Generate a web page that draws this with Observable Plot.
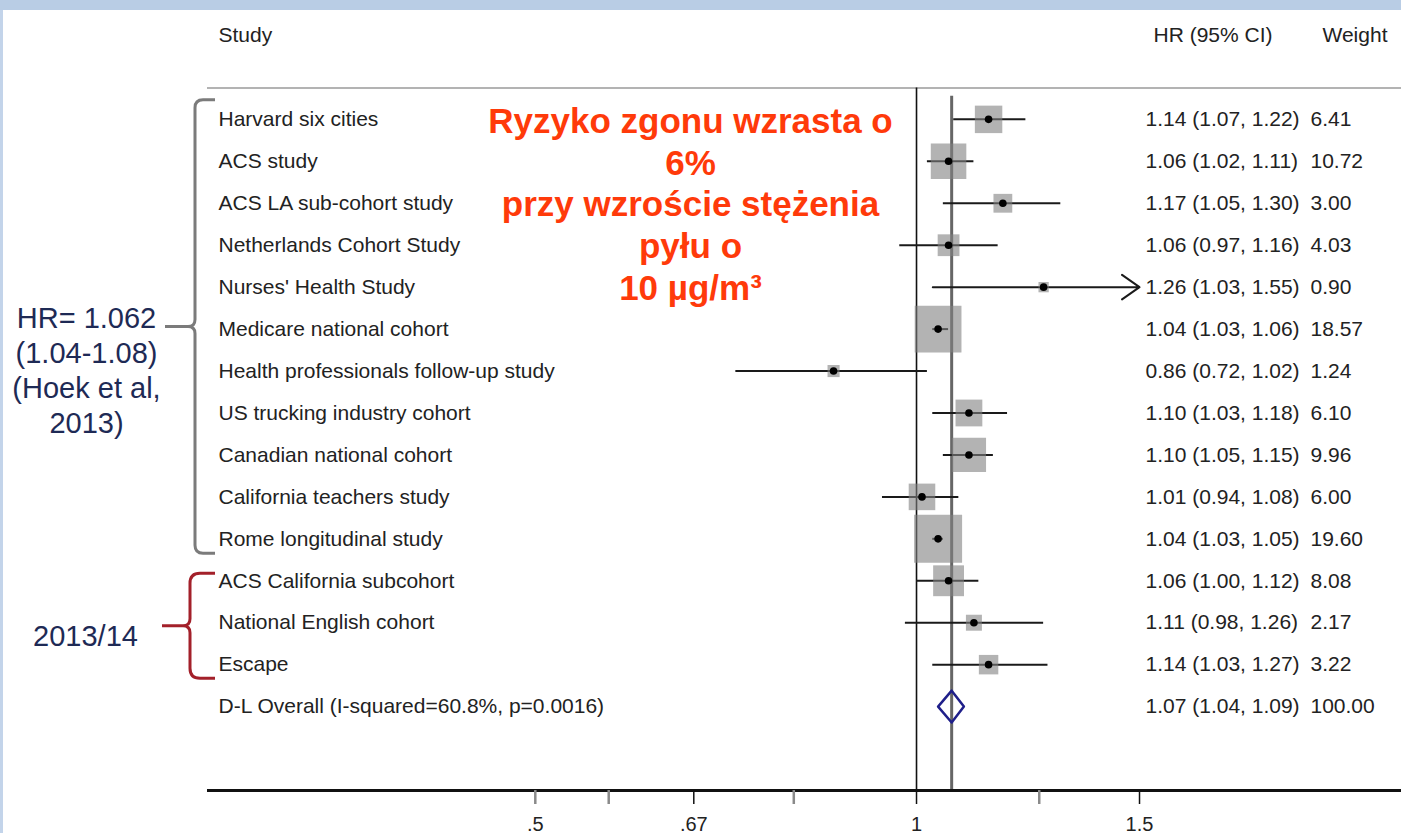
<!DOCTYPE html>
<html>
<head>
<meta charset="utf-8">
<script src="https://cdn.jsdelivr.net/npm/d3@7"></script>
<script src="https://cdn.jsdelivr.net/npm/@observablehq/plot@0.6"></script>
<style>
  html, body { margin: 0; padding: 0; width: 1401px; height: 833px; overflow: hidden;
    background: linear-gradient(#b9cde5 0 10px, transparent 10px),
                linear-gradient(90deg, #c3d4ea 0 3px, #ffffff 3px); }
  #chart svg { display: block; background: transparent; }
</style>
</head>
<body>
<div id="chart"></div>
<script>
// ---------- data ----------
const studies = [
  "Harvard six cities",
  "ACS study",
  "ACS LA sub-cohort study",
  "Netherlands Cohort Study",
  "Nurses' Health Study",
  "Medicare national cohort",
  "Health professionals follow-up study",
  "US trucking industry cohort",
  "Canadian national cohort",
  "California teachers study",
  "Rome longitudinal study",
  "ACS California subcohort",
  "National English cohort",
  "Escape"
];
const hr     = [1.14, 1.06, 1.17, 1.06, 1.26, 1.04, 0.86, 1.10, 1.10, 1.01, 1.04, 1.06, 1.11, 1.14];
const lo     = [1.07, 1.02, 1.05, 0.97, 1.03, 1.03, 0.72, 1.03, 1.05, 0.94, 1.03, 1.00, 0.98, 1.03];
const hi     = [1.22, 1.11, 1.30, 1.16, 1.55, 1.06, 1.02, 1.18, 1.15, 1.08, 1.05, 1.12, 1.26, 1.27];
const weight = [6.41, 10.72, 3.00, 4.03, 0.90, 18.57, 1.24, 6.10, 9.96, 6.00, 19.60, 8.08, 2.17, 3.22];

const overallLabel = "D-L Overall (I-squared=60.8%, p=0.0016)";
const overallHR = 1.066, overallLo = 1.04, overallHi = 1.09, overallWeight = 100.00;

const tickValues = [0.5, 0.5714, 0.667, 0.8, 1, 1.25, 1.5];
const tickLabels = [".5", "", ".67", "", "1", "", "1.5"];
const headers = ["Study", "HR (95% CI)", "Weight"];

const noteLines = ["Ryzyko zgonu wzrasta o", "6%", "przy wzroście stężenia", "pyłu o", "10 µg/m³"];
const hoekLines = ["HR= 1.062", "(1.04-1.08)", "(Hoek et al,", "2013)"];
const newLabel = "2013/14";
const groupRows = [[0, 10], [11, 13]];

// ---------- derived table ----------
const rows = studies.map((s, i) => ({study: s, hr: hr[i], lo: lo[i], hi: hi[i], w: weight[i], row: i}));
const overallRow = studies.length;
const allRows = [...rows, {study: overallLabel, hr: overallHR, lo: overallLo, hi: overallHi, w: overallWeight, row: overallRow}];
const xMaxLabel = d3.max(tickValues.filter((v, i) => tickLabels[i] !== ""));
const labelOf = new Map(tickValues.map((v, i) => [v, tickLabels[i]]));
const diamond = [
  {x: overallLo, y: overallRow}, {x: overallHR, y: overallRow - 0.38},
  {x: overallHi, y: overallRow}, {x: overallHR, y: overallRow + 0.38},
  {x: overallLo, y: overallRow}
];
const f2 = d3.format(".2f");

const FONT = "Liberation Sans, Arial, Helvetica, sans-serif";
const yDomain = [-2.834, 16];
const axisRow = 16, topLineRow = -0.75, headerRow = -2;
const TFS = 21;

// ---------- brackets (custom render using Plot's y scale) ----------
function brackets(index, scales, values, dims) {
  const yf = typeof scales.y === "function" ? scales.y
    : (v => (v - yDomain[0]) / (yDomain[1] - yDomain[0]) * (dims.height - dims.marginBottom));
  const ml = dims.marginLeft;
  const specs = [
    {g: groupRows[0], top: -19, bot: 15, xv: -12, xh: 8, xt: -42, r: 8, stroke: "#7b7b7b"},
    {g: groupRows[1], top: -7, bot: 14, xv: -17, xh: 8, xt: -45, r: 10, stroke: "#a3202a"}
  ];
  const g = d3.create("svg:g").attr("fill", "none").attr("stroke-width", 3).attr("stroke-linejoin", "round");
  for (const s of specs) {
    const y0 = yf(s.g[0]) + s.top, y1 = yf(s.g[1]) + s.bot, ym = (y0 + y1) / 2;
    const xv = ml + s.xv, xh = ml + s.xh, xt = ml + s.xt, r = s.r;
    const p = d3.path();
    p.moveTo(xh, y0); p.lineTo(xv + r, y0); p.quadraticCurveTo(xv, y0, xv, y0 + r);
    p.lineTo(xv, ym - 7); p.quadraticCurveTo(xv, ym, xv - 7, ym); p.lineTo(xt, ym);
    p.moveTo(xv - 7, ym); p.quadraticCurveTo(xv, ym, xv, ym + 7);
    p.lineTo(xv, y1 - r); p.quadraticCurveTo(xv, y1, xv + r, y1); p.lineTo(xh, y1);
    g.append("path").attr("d", p.toString()).attr("stroke", s.stroke);
  }
  return g.node();
}

const chart = Plot.plot({
  width: 1401,
  height: 833,
  marginLeft: 207,
  marginRight: 0,
  marginTop: 0,
  marginBottom: 43,
  style: {background: "transparent", fontFamily: FONT, overflow: "visible"},
  x: {type: "log", domain: [0.2755, 2.4153], label: null},
  y: {domain: yDomain, reverse: true, axis: null},
  r: {type: "sqrt", domain: [0, d3.max(weight)], range: [0, 27.1]},
  marks: [
    // header separator
    Plot.ruleY([topLineRow], {stroke: "#9a9a9a", strokeWidth: 1.5}),
    // null line and overall line
    Plot.ruleX([1], {y1: topLineRow, y2: axisRow, stroke: "#111", strokeWidth: 1.6}),
    Plot.ruleX([overallHR], {y1: -0.55, y2: axisRow, stroke: "#666", strokeWidth: 3}),
    // confidence intervals
    Plot.ruleY(rows.filter(d => d.hi <= xMaxLabel), {y: "row", x1: "lo", x2: "hi", stroke: "#1a1a1a", strokeWidth: 2}),
    Plot.arrow(rows.filter(d => d.hi > xMaxLabel), {
      x1: "lo", x2: d => Math.min(d.hi, xMaxLabel), y1: "row", y2: "row",
      stroke: "#1a1a1a", strokeWidth: 2, headLength: 16, headAngle: 70
    }),
    // weight boxes
    Plot.dot(rows, {x: "hr", y: "row", r: "w", symbol: "square", fill: "#808080", fillOpacity: 0.6}),
    // point estimates
    Plot.dot(rows, {x: "hr", y: "row", r: 3.8, fill: "#000"}),
    // overall diamond
    Plot.line(diamond, {x: "x", y: "y", stroke: "#1f1f8a", strokeWidth: 2.5}),
    // x axis
    Plot.ruleY([axisRow], {stroke: "#111", strokeWidth: 3}),
    Plot.axisX({ticks: tickValues.filter(v => [0.5, 0.5714, 0.8, 1.25].includes(v)), tickSize: 14, stroke: "#8a8a8a", strokeWidth: 2.5, tickFormat: () => "", label: null}),
    Plot.axisX({ticks: tickValues.filter(v => [0.667, 1, 1.5].includes(v)), tickSize: 14, stroke: "#111", strokeWidth: 1.5, tickFormat: () => "", label: null}),
    Plot.axisX({ticks: tickValues.filter(v => labelOf.get(v) !== ""), tickSize: 0, tickPadding: 26, tickFormat: d => labelOf.get(d), fontSize: 20, fontFamily: FONT, fill: "#222", label: null}),
    // headers
    Plot.text([headers[0]], {y: () => headerRow, text: d => d, frameAnchor: "left", dx: 11, textAnchor: "start", fontSize: TFS, fontFamily: FONT, fill: "#222"}),
    Plot.text([headers[1]], {y: () => headerRow, text: d => d, frameAnchor: "right", dx: -248, textAnchor: "start", fontSize: TFS, fontFamily: FONT, fill: "#222"}),
    Plot.text([headers[2]], {y: () => headerRow, text: d => d, frameAnchor: "right", dx: -79, textAnchor: "start", fontSize: TFS, fontFamily: FONT, fill: "#222"}),
    // study labels and stats columns
    Plot.text(allRows, {y: "row", text: "study", frameAnchor: "left", dx: 11, textAnchor: "start", fontSize: TFS, fontFamily: FONT, fill: "#222"}),
    Plot.text(allRows, {y: "row", text: d => `${f2(d.hr)} (${f2(d.lo)}, ${f2(d.hi)})`, frameAnchor: "right", dx: -256, textAnchor: "start", fontSize: TFS, fontFamily: FONT, fill: "#222"}),
    Plot.text(allRows, {y: "row", text: d => f2(d.w), frameAnchor: "right", dx: -91, textAnchor: "start", fontSize: TFS, fontFamily: FONT, fill: "#222"}),
    // red note
    Plot.text(noteLines, {y: (d, i) => i, dy: 2, text: d => d, frameAnchor: "left", dx: 483, textAnchor: "middle", fontSize: 35, fontWeight: "bold", fontFamily: FONT, fill: "#ff3a0a"}),
    // left annotations
    Plot.text([hoekLines.join("\n")], {y: () => (groupRows[0][0] + groupRows[0][1]) / 2, dy: 40, text: d => d, frameAnchor: "left", dx: -121, textAnchor: "middle", lineAnchor: "middle", lineHeight: 1.21, fontSize: 29, fontFamily: FONT, fill: "#1e2a55"}),
    Plot.text([newLabel], {y: () => (groupRows[1][0] + groupRows[1][1]) / 2, dy: 14, text: d => d, frameAnchor: "left", dx: -122, textAnchor: "middle", fontSize: 29, fontFamily: FONT, fill: "#1e2a55"}),
    brackets
  ]
});
document.getElementById("chart").appendChild(chart);
</script>
</body>
</html>
